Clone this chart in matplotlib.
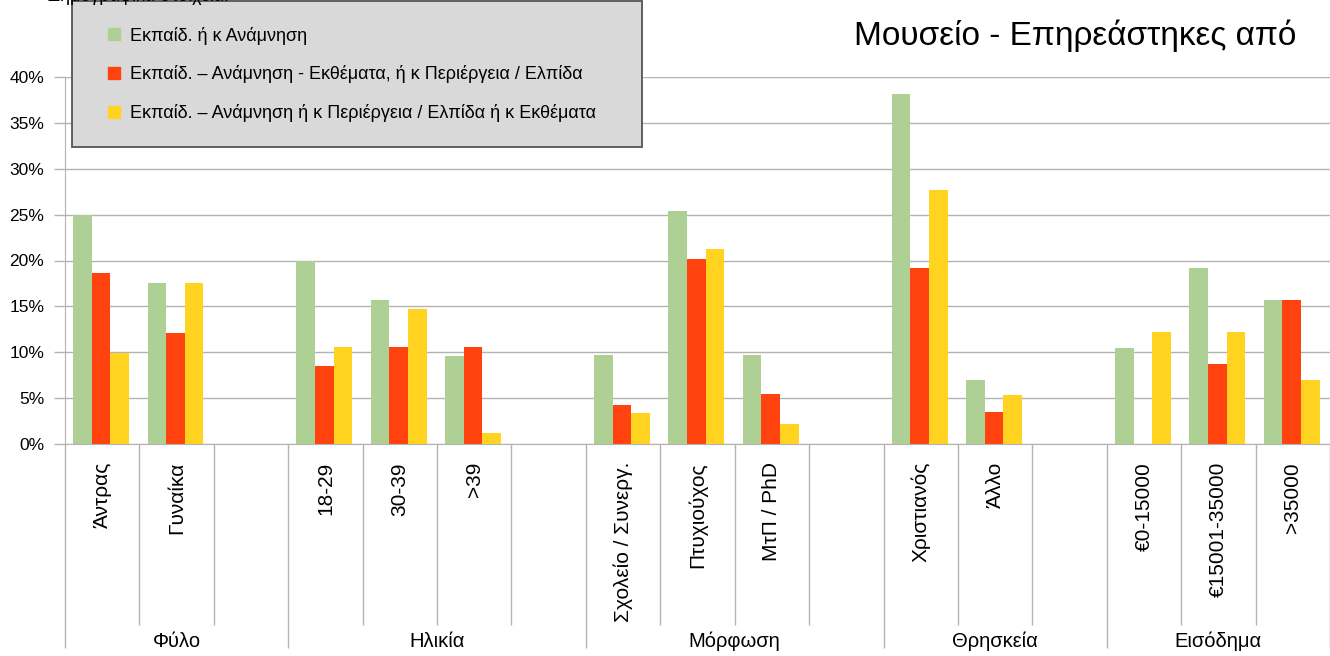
import numpy as np
import matplotlib
matplotlib.use("Agg")
import matplotlib.pyplot as plt
from matplotlib.lines import Line2D

plt.rcParams['font.family'] = ['Liberation Sans', 'DejaVu Sans']

# data (percent), empty slots separate the groups
categories = ["Άντρας", "Γυναίκα", "",
              "18-29", "30-39", ">39", "",
              "Σχολείο / Συνεργ.", "Πτυχιούχος", "ΜτΠ / PhD", "",
              "Χριστιανός", "Άλλο", "",
              "€0-15000", "€15001-35000", ">35000"]
groups = ["Φύλο", "Ηλικία", "Μόρφωση", "Θρησκεία", "Εισόδημα"]
group_slots = [3, 4, 4, 3, 3]

series_names = ["Εκπαίδ. ή κ Ανάμνηση",
                "Εκπαίδ. – Ανάμνηση - Εκθέματα, ή κ Περιέργεια / Ελπίδα",
                "Εκπαίδ. – Ανάμνηση ή κ Περιέργεια / Ελπίδα ή κ Εκθέματα"]
green = [25.0, 17.5, np.nan, 20.0, 15.7, 9.6, np.nan, 9.65, 25.4, 9.65, np.nan,
         38.1, 7.0, np.nan, 10.45, 19.2, 15.7]
red = [18.6, 12.1, np.nan, 8.5, 10.6, 10.6, np.nan, 4.3, 20.2, 5.4, np.nan,
       19.2, 3.5, np.nan, 0.0, 8.7, 15.7]
yellow = [9.9, 17.5, np.nan, 10.6, 14.7, 1.2, np.nan, 3.35, 21.25, 2.2, np.nan,
          27.7, 5.3, np.nan, 12.2, 12.2, 7.0]
colors = ["#afd095", "#ff420e", "#ffd320"]

fig = plt.figure(figsize=(13.3, 6.56), dpi=100)
ax = fig.add_axes([65/1330, 1-444/656, 1-65/1330, (444-77)/656])

x = np.arange(len(categories)) + 0.5
w = 0.25
for k, vals in enumerate([green, red, yellow]):
    ax.bar(x + (k-1)*w - 0.015, vals, w, color=colors[k], label=series_names[k], zorder=2)

grid_c = "#b3b3b3"
ax.set_xlim(0, len(categories))
ax.set_ylim(0, 40)
ax.set_yticks(np.arange(0, 41, 5))
ax.set_yticklabels([f"{v}%" for v in range(0, 41, 5)], fontsize=12.5)
ax.yaxis.grid(True, color=grid_c, lw=1)
ax.set_axisbelow(True)
for s in ["top", "right"]:
    ax.spines[s].set_visible(False)
ax.spines["left"].set_color(grid_c)
ax.spines["bottom"].set_color(grid_c)
ax.tick_params(axis="y", color=grid_c, length=8, width=1, pad=7)

# separators below the axis
bounds = np.cumsum([0] + group_slots)
ax.set_xticks(bounds)
ax.set_xticks([i for i in range(len(categories) + 1) if i not in bounds], minor=True)
ax.tick_params(axis="x", which="major", length=147, color=grid_c, width=1, labelbottom=False)
ax.tick_params(axis="x", which="minor", length=130, color=grid_c, width=1, labelbottom=False)

for xi, lab in zip(x, categories):
    if lab:
        ax.annotate(lab, (xi, 0), xycoords=("data", "axes fraction"), xytext=(0, -13),
                    textcoords="offset points", rotation=90, ha="center", va="top",
                    fontsize=15)
for g, a, b in zip(groups, bounds[:-1], bounds[1:]):
    ax.annotate(g, ((a+b)/2, 0), xycoords=("data", "axes fraction"), xytext=(0, -142),
                textcoords="offset points", ha="center", va="center", fontsize=14.5)

handles = [Line2D([], [], marker="s", ls="none", markersize=8, color=c) for c in colors]
leg = ax.legend(handles, series_names, loc="upper left", mode="expand",
                bbox_to_anchor=(72/1330, 1-8/656, (642-72)/1330, 0.01),
                bbox_transform=fig.transFigure, fontsize=13, frameon=True,
                fancybox=False, framealpha=1, facecolor="#d9d9d9", edgecolor="#555555",
                borderpad=1.4, labelspacing=1.14, handlelength=1.9, handletextpad=-0.11,
                borderaxespad=0)
leg.get_frame().set_linewidth(1.3)

fig.text(1075/1330, 1-45/656, "Μουσείο - Επηρεάστηκες από", ha="center", va="baseline",
         fontsize=24)
fig.text(48/1330, 1-1/656, "Δημογραφικά στοιχεία:", ha="left", va="baseline", fontsize=13)

fig.savefig("out.png", dpi=100)
